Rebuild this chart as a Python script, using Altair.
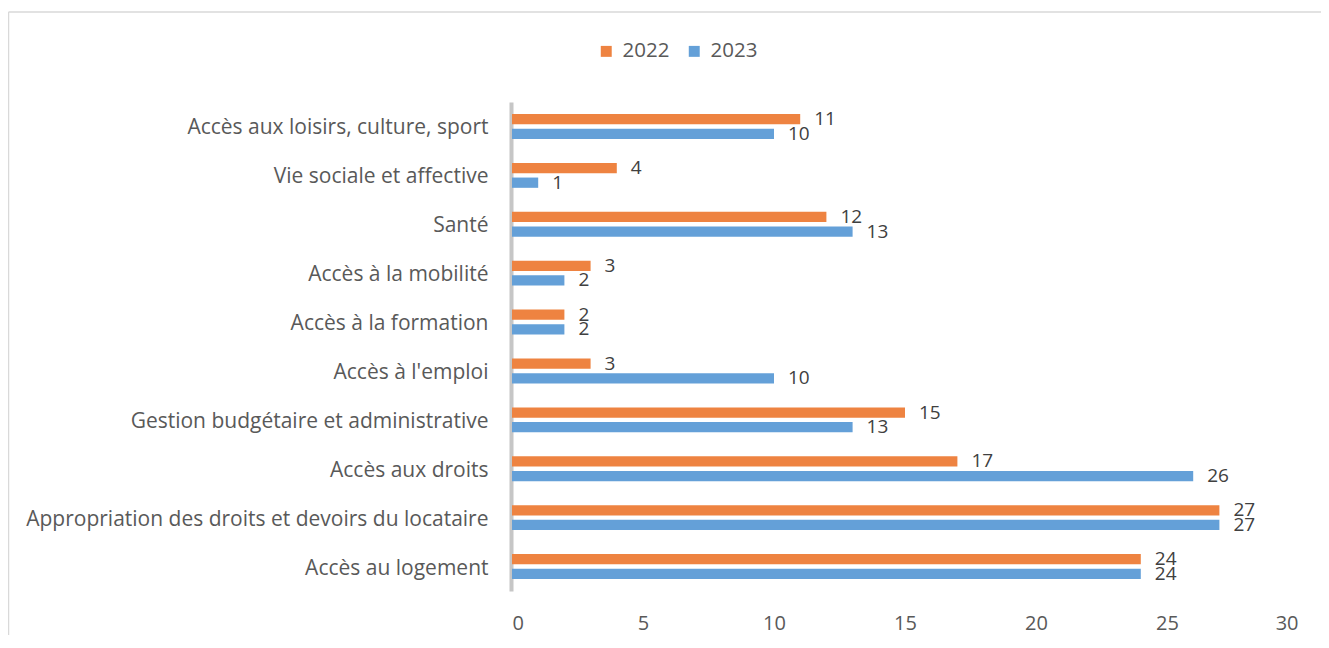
import altair as alt
import pandas as pd

categories = [
    "Accès aux loisirs, culture, sport",
    "Vie sociale et affective",
    "Santé",
    "Accès à la mobilité",
    "Accès à la formation",
    "Accès à l'emploi",
    "Gestion budgétaire et administrative",
    "Accès aux droits",
    "Appropriation des droits et devoirs du locataire",
    "Accès au logement",
]
values_2022 = [11, 4, 12, 3, 2, 3, 15, 17, 27, 24]
values_2023 = [10, 1, 13, 2, 2, 10, 13, 26, 27, 24]
years = ["2022", "2023"]
colors = ["#EE8341", "#64A0D8"]
x_ticks = [0, 5, 10, 15, 20, 25, 30]

rows = []
for c, a, b in zip(categories, values_2022, values_2023):
    rows.append({"cat": c, "year": "2022", "value": a})
    rows.append({"cat": c, "year": "2023", "value": b})
df = pd.DataFrame(rows)

FONT = "Open Sans"
TXT = "#595959"

y_enc = alt.Y("cat:N", sort=categories, title=None,
              scale=alt.Scale(paddingInner=0.4, paddingOuter=0.2),
              axis=alt.Axis(domainColor="#C6C6C6", domainWidth=4, ticks=False, offset=1,
                            labelPadding=23, labelFontSize=21, labelColor=TXT, labelOffset=2,
                            labelFont=FONT, labelLimit=600))
yoff_enc = alt.YOffset("year:N", sort=years,
                       scale=alt.Scale(domain=years, paddingInner=0.3, paddingOuter=0.15))
x_enc = alt.X("value:Q", title=None,
              scale=alt.Scale(domain=[0, 30], nice=False),
              axis=alt.Axis(values=x_ticks, grid=False, domain=False, ticks=False,
                            labelPadding=22, labelFontSize=20, labelColor=TXT,
                            labelFont=FONT))

base = alt.Chart(df)

bars = base.mark_bar().encode(
    x=x_enc,
    y=y_enc,
    yOffset=yoff_enc,
    color=alt.Color("year:N", sort=years,
                    scale=alt.Scale(domain=years, range=colors),
                    legend=alt.Legend(title=None, orient="none", direction="horizontal",
                                      legendX=84, legendY=-61, symbolType="square",
                                      symbolSize=120, labelFontSize=20.5, labelColor=TXT,
                                      labelFont=FONT, labelOffset=6, columnPadding=14)),
)

labels = base.mark_text(align="left", baseline="middle", dx=14, fontSize=19,
                        color="#404040", font=FONT).encode(
    x=alt.X("value:Q"),
    y=alt.Y("cat:N", sort=categories),
    yOffset=alt.YOffset("year:N", sort=years),
    text=alt.Text("value:Q"),
)

frame = pd.DataFrame({"a": [0]})
top_line = alt.Chart(frame).mark_rule(stroke="#D9D9D9", strokeWidth=1.5).encode(
    x=alt.value(-503.5), x2=alt.value(809), y=alt.value(-90))
left_line = alt.Chart(frame).mark_rule(stroke="#D9D9D9", strokeWidth=1.5).encode(
    x=alt.value(-503.5), y=alt.value(-90), y2=alt.value(537))

chart = alt.layer(top_line, left_line, bars, labels).properties(
    width=786, height=489,
    autosize=alt.AutoSizeParams(type="none"),
    padding={"left": 504, "top": 94, "right": 23, "bottom": 44},
).configure_view(stroke=None)

chart.save("out.html", embed_options={"renderer": "svg", "actions": False})
